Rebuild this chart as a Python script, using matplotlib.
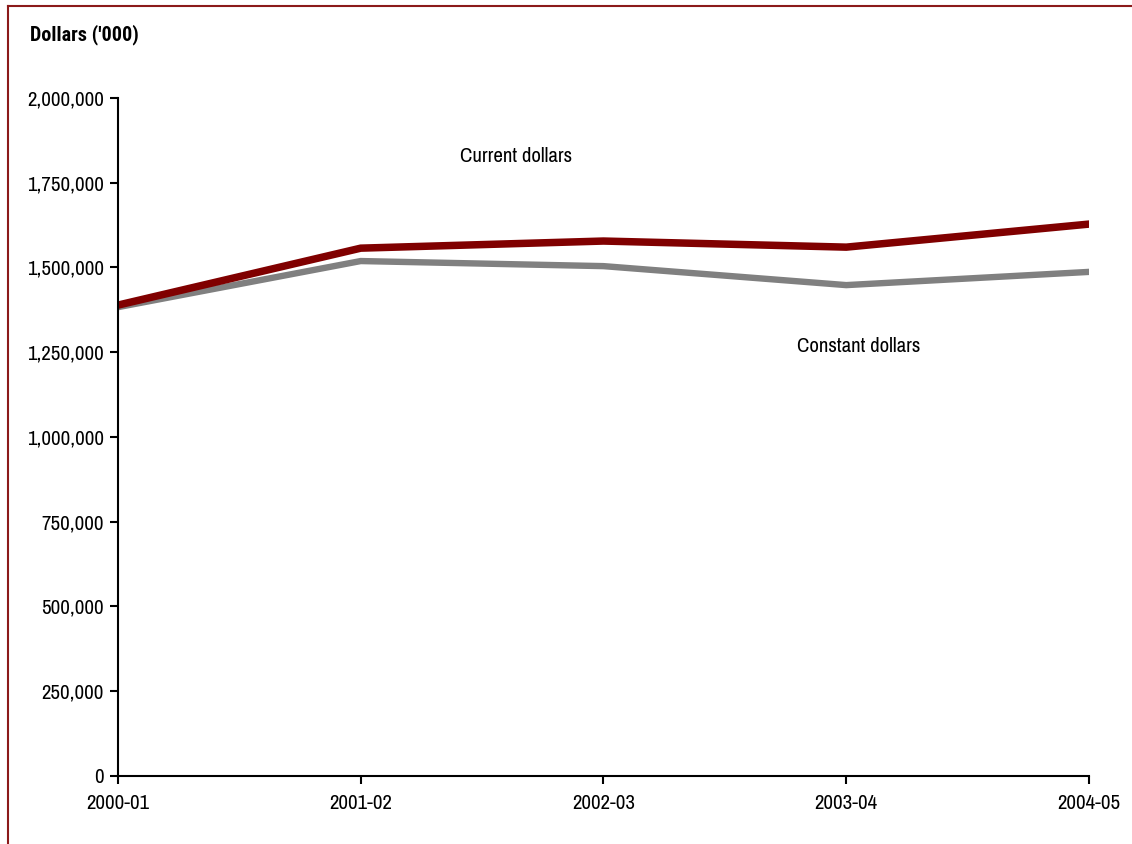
import matplotlib
matplotlib.use("Agg")
import matplotlib.pyplot as plt
from matplotlib.lines import Line2D
from matplotlib.ticker import FuncFormatter

plt.rcParams['font.family'] = ['Archivo Narrow', 'Liberation Sans', 'DejaVu Sans']

# Data
years = ['2000-01', '2001-02', '2002-03', '2003-04', '2004-05']
current_dollars = [1389000, 1557000, 1578000, 1560000, 1628000]
constant_dollars = [1383000, 1519000, 1504000, 1448000, 1487000]
y_ticks = [0, 250000, 500000, 750000, 1000000, 1250000, 1500000, 1750000, 2000000]

fig = plt.figure(figsize=(11.32, 8.44), dpi=100)
ax = fig.add_axes([0.1042, 0.0806, 0.8578, 0.8033])

x = list(range(len(years)))
ax.plot(x, constant_dollars, color='#808080', lw=4.6, solid_joinstyle='miter')
ax.plot(x, current_dollars, color='#800000', lw=5.4, solid_joinstyle='miter')

ax.set_xlim(0, len(years) - 1)
ax.set_ylim(0, 2000000)
ax.set_xticks(x)
ax.set_xticklabels(years)
ax.set_yticks(y_ticks)
ax.yaxis.set_major_formatter(FuncFormatter(lambda v, p: f'{int(v):,}'))
ax.tick_params(direction='out', length=6, width=1.5, labelsize=15, pad=4)
ax.tick_params(axis='x', pad=7)
for s in ['top', 'right']:
    ax.spines[s].set_visible(False)
for s in ['left', 'bottom']:
    ax.spines[s].set_linewidth(1.5)
ax.patch.set_visible(False)
for lab in ax.get_xticklabels() + ax.get_yticklabels():
    lab.set_clip_on(False)

ax.text(1.64, 1826000, 'Current dollars', ha='center', va='center', fontsize=15)
ax.text(3.05, 1268000, 'Constant dollars', ha='center', va='center', fontsize=15)

fig.text(0.0265, 0.9585, "Dollars ('000)", fontsize=14.5, fontweight='bold', va='center',
         family=['Roboto Condensed', 'DejaVu Sans'])

# dark red frame on top and left
fig.add_artist(Line2D([0.0071, 1.0], [0.9929, 0.9929], color='#8B1A1A', lw=1.5, transform=fig.transFigure))
fig.add_artist(Line2D([0.0071, 0.0071], [0.0, 0.9929], color='#8B1A1A', lw=1.5, transform=fig.transFigure))

fig.savefig('out.png', dpi=100)
